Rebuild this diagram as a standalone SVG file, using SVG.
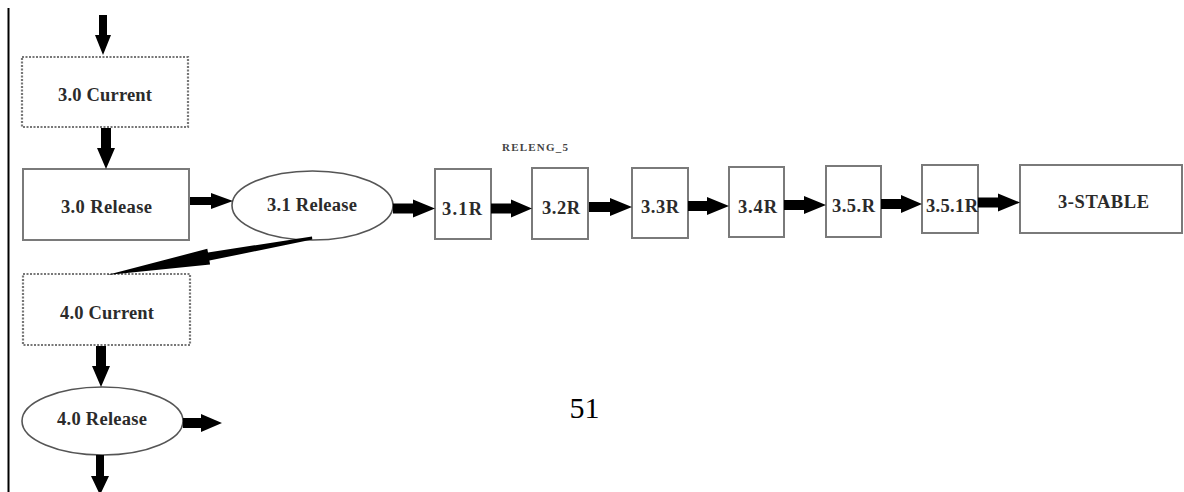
<svg xmlns="http://www.w3.org/2000/svg" width="1184" height="492" viewBox="0 0 1184 492">
<style>
.box{fill:#fff;stroke:#7a7a7a;stroke-width:2}
.dot{fill:#fff;stroke:#777;stroke-width:2.2;stroke-dasharray:2 1.5}
.ell{fill:#fff;stroke:#555;stroke-width:1.6}
.lbl{font-family:"Liberation Serif",serif;font-weight:bold;font-size:18.5px;fill:#2b2b2b;text-anchor:middle}
.small{font-family:"Liberation Serif",serif;font-weight:bold;font-size:11px;fill:#444;text-anchor:middle}
.arr{fill:#000}
</style>
<rect width="1184" height="492" fill="#fff"/>
<line x1="8.5" y1="8" x2="8.5" y2="492" stroke="#000" stroke-width="2"/>
<g id="n-30current"><rect class="dot" x="22" y="57" width="166" height="70"/><text class="lbl" x="105" y="101" textLength="94" lengthAdjust="spacing">3.0 Current</text></g>
<g id="n-30release"><rect class="box" x="23" y="169" width="166" height="71"/><text class="lbl" x="106.5" y="213" textLength="91" lengthAdjust="spacing">3.0 Release</text></g>
<g id="n-31release"><ellipse class="ell" cx="312.5" cy="205.5" rx="80.5" ry="34.5"/><text class="lbl" x="312" y="211" textLength="90" lengthAdjust="spacing">3.1 Release</text></g>
<g id="n-releng"><text class="small" x="535" y="151" textLength="66" lengthAdjust="spacing">RELENG_5</text></g>
<g id="n-31r"><rect class="box" x="435" y="169" width="56" height="70"/><text class="lbl" x="462" y="215" textLength="40" lengthAdjust="spacing">3.1R</text></g>
<g id="n-32r"><rect class="box" x="532" y="168" width="56" height="71"/><text class="lbl" x="561" y="214" textLength="38" lengthAdjust="spacing">3.2R</text></g>
<g id="n-33r"><rect class="box" x="632" y="168" width="56" height="70"/><text class="lbl" x="660" y="213" textLength="38" lengthAdjust="spacing">3.3R</text></g>
<g id="n-34r"><rect class="box" x="729" y="167" width="55" height="70"/><text class="lbl" x="757.5" y="213" textLength="39" lengthAdjust="spacing">3.4R</text></g>
<g id="n-35r"><rect class="box" x="826" y="166" width="55" height="71"/><text class="lbl" x="853.5" y="212" textLength="43" lengthAdjust="spacing">3.5.R</text></g>
<g id="n-351r"><rect class="box" x="922" y="165" width="56" height="68"/><text class="lbl" x="952" y="212" textLength="52" lengthAdjust="spacing">3.5.1R</text></g>
<g id="n-3stable"><rect class="box" x="1020" y="165" width="162" height="68"/><text class="lbl" x="1103.5" y="208" textLength="91" lengthAdjust="spacing">3-STABLE</text></g>
<g id="n-40current"><rect class="dot" x="23" y="274" width="167" height="71"/><text class="lbl" x="107" y="319" textLength="94" lengthAdjust="spacing">4.0 Current</text></g>
<g id="n-40release"><ellipse class="ell" cx="102.5" cy="421" rx="80.5" ry="34"/><text class="lbl" x="102" y="425" textLength="90" lengthAdjust="spacing">4.0 Release</text></g>
<g id="connectors">
<polygon class="arr" points="99,15 107,15 107,35 111,35 103,55 95,35 99,35"/>
<polygon class="arr" points="101,128 111,128 111,148 115,148 106,169 97,148 101,148"/>
<polygon class="arr" points="190,197 211,197 211,193 233,201 211,209 211,205 190,205"/>
<polygon class="arr" points="393,203.5 413,203.5 413,199.5 435,208.5 413,217.5 413,213.5 393,213.5"/>
<polygon class="arr" points="491,203.5 511,203.5 511,199.5 532,208.5 511,217.5 511,213.5 491,213.5"/>
<polygon class="arr" points="589,202 610,202 610,198 632,207 610,216 610,212 589,212"/>
<polygon class="arr" points="688,201 707,201 707,197 729,206 707,215 707,211 688,211"/>
<polygon class="arr" points="784,200 804,200 804,196 826,205 804,214 804,210 784,210"/>
<polygon class="arr" points="881,199 901,199 901,195 922,204 901,213 901,209 881,209"/>
<polygon class="arr" points="978,197.5 998,197.5 998,193.5 1020,202.5 998,211.5 998,207.5 978,207.5"/>
<polygon class="arr" points="312,236.5 208,252.5 207.3,248.8 107,275 210.1,264.6 209.4,260.6 312.3,239.5"/>
<polygon class="arr" points="96,346 106,346 106,366 110,366 101,387 92,366 96,366"/>
<polygon class="arr" points="183,418 201,418 201,414 222,423 201,432 201,428 183,428"/>
<polygon class="arr" points="96,455 104,455 104,476 109,476 100,495 91,476 96,476"/>
</g>
<text x="584.5" y="418" font-family="Liberation Serif,serif" font-size="30" fill="#000" text-anchor="middle">51</text>
</svg>
